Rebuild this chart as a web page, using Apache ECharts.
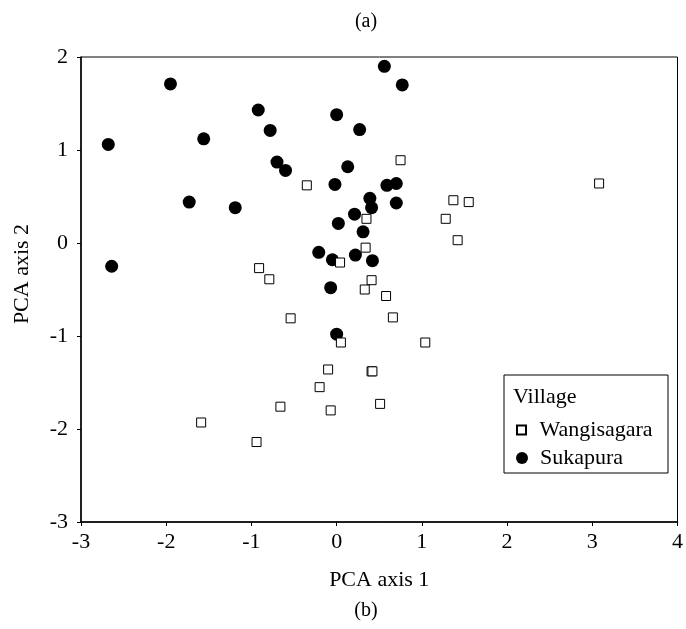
<!DOCTYPE html>
<html>
<head>
<meta charset="utf-8">
<script src="https://cdn.jsdelivr.net/npm/echarts@6/dist/echarts.min.js"></script>
<style>
  html, body { margin: 0; padding: 0; background: #fff; }
  #chart { width: 686px; height: 629px; }
</style>
</head>
<body>
<div id="chart"></div>
<script>
// PCA scores per household, grouped by village
const wangisagara = [
  [-0.35, 0.62], [0.75, 0.89], [3.08, 0.64], [1.37, 0.46], [1.55, 0.44],
  [1.28, 0.26], [1.42, 0.03], [0.35, 0.26], [0.34, -0.05], [0.04, -0.21],
  [-0.91, -0.27], [-0.79, -0.39], [0.41, -0.40], [0.33, -0.50], [0.58, -0.57],
  [-0.54, -0.81], [0.66, -0.80], [0.05, -1.07], [1.04, -1.07], [-0.10, -1.36],
  [0.41, -1.38], [0.42, -1.38], [-0.20, -1.55], [-0.66, -1.76], [-0.07, -1.80],
  [0.51, -1.73], [-1.59, -1.93], [-0.94, -2.14]
];
const sukapura = [
  [-1.95, 1.71], [-2.68, 1.06], [-1.56, 1.12], [-0.92, 1.43], [-0.78, 1.21],
  [0.00, 1.38], [0.27, 1.22], [0.56, 1.90], [0.77, 1.70], [-0.70, 0.87],
  [-0.60, 0.78], [0.13, 0.82], [-0.02, 0.63], [0.59, 0.62], [0.70, 0.64],
  [0.39, 0.48], [0.41, 0.38], [0.70, 0.43], [0.21, 0.31], [0.02, 0.21],
  [0.31, 0.12], [-1.73, 0.44], [-1.19, 0.38], [-0.21, -0.10], [-0.05, -0.18],
  [0.22, -0.13], [0.42, -0.19], [-0.07, -0.48], [0.00, -0.98], [-2.64, -0.25]
];
const seriesNames = ['Wangisagara', 'Sukapura'];
const legendTitle = 'Village';
const xAxisName = 'PCA axis 1';
const yAxisName = 'PCA axis 2';
const topCaption = '(a)';
const bottomCaption = '(b)';

const FONT = "'Liberation Serif', 'Times New Roman', serif";
const FS = 22;

const chart = echarts.init(document.getElementById('chart'), null, { renderer: 'canvas' });

const axisCommon = {
  type: 'value',
  interval: 1,
  nameLocation: 'middle',
  nameTextStyle: { fontFamily: FONT, fontSize: FS, color: '#000' },
  axisLine: { show: true, onZero: false, lineStyle: { color: '#000', width: 1.5 } },
  axisTick: { show: true, inside: false, length: 4, lineStyle: { color: '#000', width: 1 } },
  axisLabel: { fontFamily: FONT, fontSize: FS, color: '#000' },
  splitLine: { show: false }
};

// one legend block per village so each keeps its own marker size
function legendBlock(name, icon, size, top) {
  return {
    orient: 'vertical',
    left: 511, top: top,
    itemWidth: 26, itemHeight: size,
    symbolKeepAspect: true,
    icon: icon,
    textStyle: { fontFamily: FONT, fontSize: FS, color: '#000', lineHeight: FS },
    data: [name]
  };
}

chart.setOption({
  animation: false,
  backgroundColor: '#fff',
  grid: {
    left: 81, right: 4, top: 57, bottom: 107,
    show: true, borderColor: '#000', borderWidth: 1, backgroundColor: 'transparent'
  },
  xAxis: Object.assign({}, axisCommon, {
    min: -3, max: 4,
    name: xAxisName, nameGap: 47,
    axisLabel: Object.assign({}, axisCommon.axisLabel, { margin: 9 })
  }),
  yAxis: Object.assign({}, axisCommon, {
    min: -3, max: 2,
    axisLabel: Object.assign({}, axisCommon.axisLabel, { margin: 13 })
  }),
  legend: [
    legendBlock(seriesNames[0], 'path://M0,0 L10,0 L10,10 L0,10 Z', 9, 414),
    legendBlock(seriesNames[1], 'circle', 12, 442)
  ],
  graphic: [
    { type: 'rect', shape: { x: 504, y: 375, width: 164, height: 98 },
      style: { fill: 'transparent', stroke: '#000', lineWidth: 1 }, z: 10 },
    { type: 'text', x: 513, y: 397,
      style: { text: legendTitle, font: FS + 'px ' + FONT, fill: '#000', verticalAlign: 'middle' }, z: 10 },
    { type: 'text', x: 22, y: 274, rotation: Math.PI / 2,
      style: { text: yAxisName, font: FS + 'px ' + FONT, fill: '#000', align: 'center', verticalAlign: 'middle' } },
    { type: 'text', x: 366, y: 22,
      style: { text: topCaption, font: '20px ' + FONT, fill: '#000', align: 'center', verticalAlign: 'middle' } },
    { type: 'text', x: 366, y: 611,
      style: { text: bottomCaption, font: '20px ' + FONT, fill: '#000', align: 'center', verticalAlign: 'middle' } }
  ],
  series: [
    {
      name: seriesNames[0], type: 'scatter', data: wangisagara,
      symbol: 'rect', symbolSize: 9,
      itemStyle: { color: '#fff', borderColor: '#000', borderWidth: 1, opacity: 1 },
      z: 3
    },
    {
      name: seriesNames[1], type: 'scatter', data: sukapura,
      symbol: 'circle', symbolSize: 13,
      itemStyle: { color: '#000', opacity: 1 },
      z: 2
    }
  ]
});
</script>
</body>
</html>
